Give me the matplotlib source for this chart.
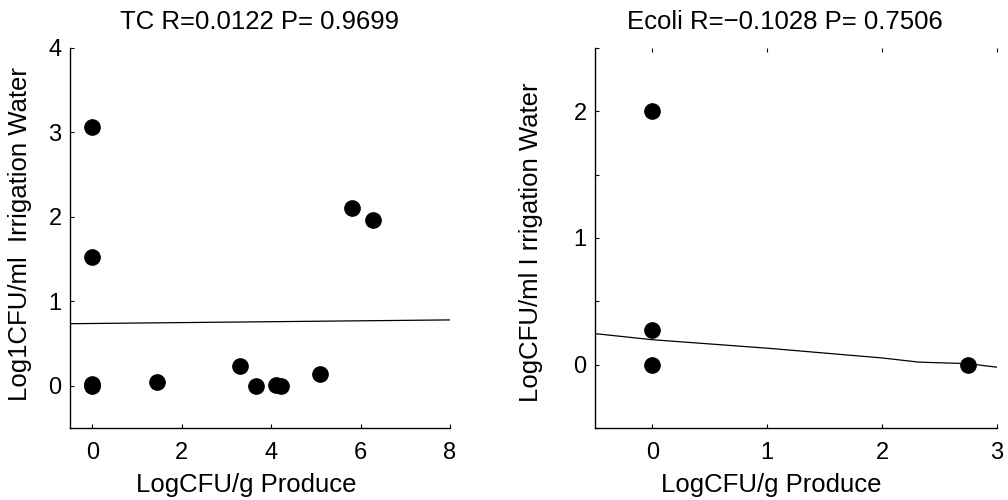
import numpy as np
import matplotlib; matplotlib.use("Agg")
import matplotlib.pyplot as plt

plt.rcParams["font.family"] = ["Liberation Sans", "DejaVu Sans"]

# ---- data ----
tc_x = [0, 0, 0, 0, 1.45, 3.30, 3.65, 4.10, 4.22, 5.10, 5.80, 6.28]
tc_y = [3.07, 1.52, 0.00, 0.02, 0.05, 0.24, 0.00, 0.01, 0.00, 0.14, 2.10, 1.96]
tc_fit_x = [-0.5, 8.0]
tc_fit_y = [0.735, 0.78]

ec_x = [0, 0, 0, 2.75]
ec_y = [2.00, 0.27, 0.00, 0.00]
ec_fit_x = [-0.5, 0.0, 1.0, 2.0, 2.32, 2.75, 3.0]
ec_fit_y = [0.245, 0.197, 0.13, 0.053, 0.02, 0.008, -0.02]

tc_title = "TC R=0.0122 P= 0.9699"
ec_title = "Ecoli R=\u22120.1028 P= 0.7506"
xlab = "LogCFU/g Produce"
tc_ylab = "Log1CFU/ml  Irrigation Water"
ec_ylab = "LogCFU/ml I rrigation Water"

TXT = 18.5   # title / axis label size
TCK = 17     # tick label size


def style(ax):
    for s in ("top", "right"):
        ax.spines[s].set_visible(False)
    for s in ("left", "bottom"):
        ax.spines[s].set_linewidth(1.0)
    ax.tick_params(direction="in", length=3, width=0.8, labelsize=TCK)
    ax.tick_params(axis="x", pad=10)
    ax.tick_params(axis="y", pad=6)


fig = plt.figure(figsize=(10.08, 5.0), dpi=100)

# left panel: total coliforms
ax1 = fig.add_axes([70/1008, 1-428/500, 380/1008, 380/500])
ax1.plot(tc_fit_x, tc_fit_y, color="black", lw=0.9)
ax1.plot(tc_x, tc_y, "o", color="black", ms=11, ls="none")
ax1.set_xlim(-0.5, 8); ax1.set_ylim(-0.5, 4)
ax1.set_xticks([0, 2, 4, 6, 8]); ax1.set_yticks([0, 1, 2, 3, 4])
style(ax1)
ax1.set_title(tc_title, fontsize=TXT, pad=14)
ax1.set_xlabel(xlab, fontsize=TXT)
ax1.set_ylabel(tc_ylab, fontsize=TXT)
ax1.xaxis.set_label_coords(0.463, -0.118)
ax1.yaxis.set_label_coords(-0.10, 0.51)

# right panel: E. coli
ax2 = fig.add_axes([595/1008, 1-428/500, 402/1008, 380/500])
ax2.plot(ec_fit_x, ec_fit_y, color="black", lw=0.9)
ax2.plot(ec_x, ec_y, "o", color="black", ms=11, ls="none")
ax2.set_xlim(-0.5, 3); ax2.set_ylim(-0.5, 2.5)
ax2.set_xticks([0, 1, 2, 3])
yt = np.arange(-0.5, 2.51, 0.5)
ax2.set_yticks(yt)
ax2.set_yticklabels([f"{v:g}" if v == int(v) else "" for v in yt])
style(ax2)
ax2.tick_params(axis="x", top=True, labeltop=False)
ax2.set_title(ec_title, fontsize=TXT, pad=14, x=0.473)
ax2.set_xlabel(xlab, fontsize=TXT)
ax2.set_ylabel(ec_ylab, fontsize=TXT)
ax2.xaxis.set_label_coords(0.438, -0.118)
ax2.yaxis.set_label_coords(-0.129, 0.49)

fig.savefig("out.png", dpi=100)
